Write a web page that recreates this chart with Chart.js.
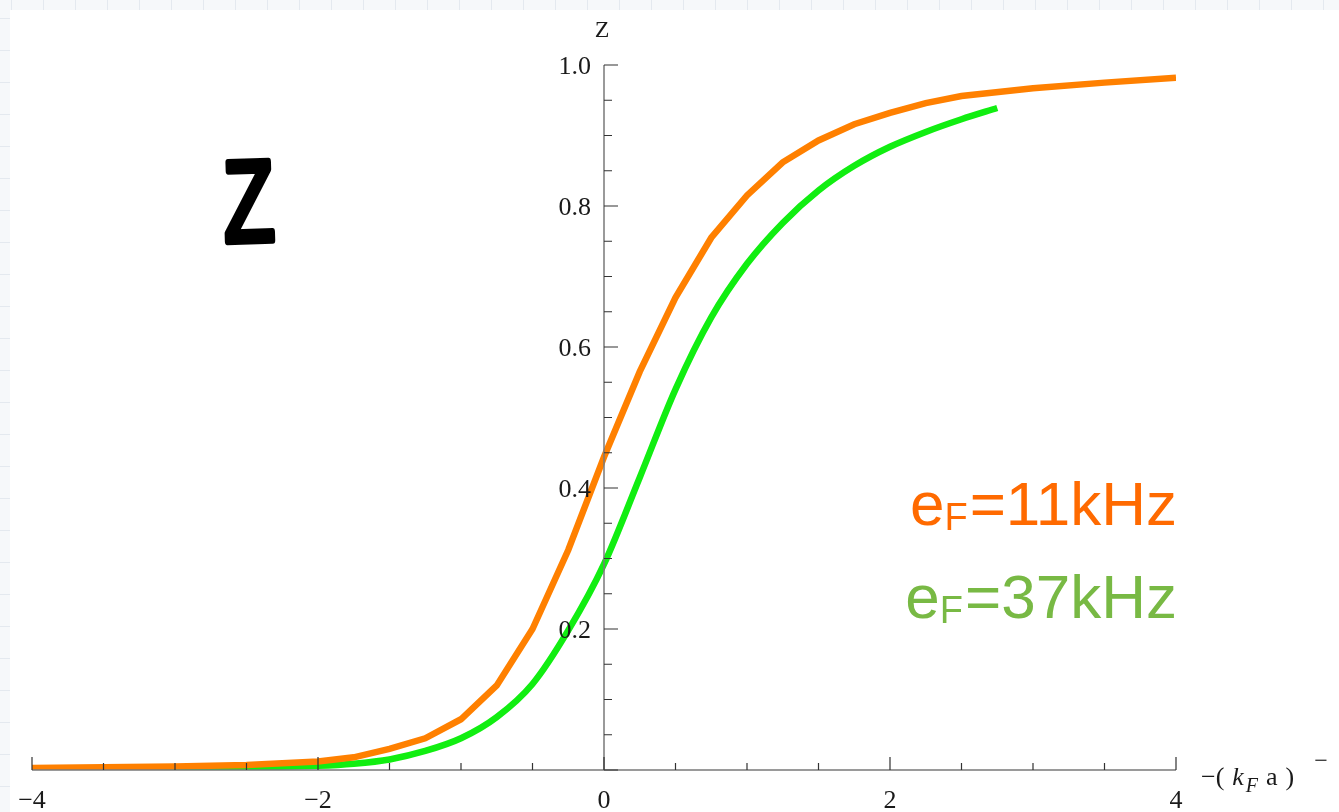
<!DOCTYPE html>
<html>
<head>
<meta charset="utf-8">
<title>Z</title>
<script src="https://cdn.jsdelivr.net/npm/chart.js@4.4.0/dist/chart.umd.min.js"></script>
<style>
  html, body { margin: 0; padding: 0; }
  body {
    width: 1339px; height: 812px; overflow: hidden; position: relative;
    background-color: #f6f8fa;
    background-image:
      linear-gradient(to right, #e4e9ef 1px, transparent 1px),
      linear-gradient(to bottom, #e4e9ef 1px, transparent 1px);
    background-size: 32px 32px;
    background-position: 11px 18px;
  }
  #sheet { position: absolute; left: 10px; top: 10px; right: 0; bottom: 0; background: #fff; }
  #chart { position: absolute; left: 0; top: 0; }
</style>
</head>
<body>
<div id="sheet"></div>
<canvas id="chart" width="1339" height="812"></canvas>
<script>
// Z against -(kF a)^-1 for two Fermi energies
const xOrange = [-4, -3.5, -3, -2.5, -2, -1.75, -1.5, -1.25, -1, -0.75, -0.5, -0.25, 0,
                 0.25, 0.5, 0.75, 1, 1.25, 1.5, 1.75, 2, 2.25, 2.5, 3, 3.5, 4];
const zOrange = [0.003, 0.004, 0.005, 0.007, 0.012, 0.018, 0.03, 0.045, 0.072, 0.12, 0.2, 0.312, 0.444,
                 0.565, 0.67, 0.755, 0.815, 0.862, 0.893, 0.916, 0.932, 0.946, 0.956, 0.967, 0.975, 0.982];

const xGreen = [-4, -3.5, -3, -2.5, -2, -1.75, -1.5, -1.25, -1, -0.75, -0.5, -0.25, 0,
                0.25, 0.5, 0.75, 1, 1.25, 1.5, 1.75, 2, 2.25, 2.5, 2.75];
const zGreen = [0.002, 0.002, 0.003, 0.004, 0.006, 0.009, 0.015, 0.027, 0.045, 0.075, 0.122, 0.198, 0.292,
                0.415, 0.54, 0.642, 0.718, 0.776, 0.822, 0.857, 0.884, 0.905, 0.923, 0.939];

const xMajor = [-4, -2, 0, 2, 4];
const xMajorLabels = ['\u22124', '\u22122', '0', '2', '4'];
const xMinor = [-3.5, -3, -2.5, -1.5, -1, -0.5, 0.5, 1, 1.5, 2.5, 3, 3.5];
const yMajor = [0, 0.2, 0.4, 0.6, 0.8, 1.0];
const yMajorLabels = ['', '0.2', '0.4', '0.6', '0.8', '1.0'];
const yMinor = [0.05, 0.1, 0.15, 0.25, 0.3, 0.35, 0.45, 0.5, 0.55, 0.65, 0.7, 0.75, 0.85, 0.9, 0.95];

const seriesLabels = ['=11kHz', '=37kHz'];
const ORANGE = '#ff8000', GREEN = '#11ee11';
const ORANGE_TEXT = '#ff6a00', GREEN_TEXT = '#78b944';

const pts = (xs, ys) => xs.map((x, i) => ({ x, y: ys[i] }));

// axes crossing at the origin, Mathematica style
const crossAxes = {
  id: 'crossAxes',
  afterDatasetsDraw(chart) {
    const { ctx, scales: { x, y } } = chart;
    const x0 = x.getPixelForValue(0), y0 = y.getPixelForValue(0);
    ctx.save();
    ctx.strokeStyle = '#7a7a7a';
    ctx.lineWidth = 1.5;
    ctx.beginPath();
    ctx.moveTo(x.getPixelForValue(-4), y0);
    ctx.lineTo(x.getPixelForValue(4), y0);
    ctx.moveTo(x0, y0);
    ctx.lineTo(x0, y.getPixelForValue(1));
    ctx.stroke();

    ctx.strokeStyle = '#333';
    ctx.lineWidth = 1.2;
    ctx.beginPath();
    xMajor.forEach(v => { const p = x.getPixelForValue(v); ctx.moveTo(p, y0); ctx.lineTo(p, y0 - 13); });
    xMinor.forEach(v => { const p = x.getPixelForValue(v); ctx.moveTo(p, y0); ctx.lineTo(p, y0 - 7); });
    yMajor.forEach(v => { const p = y.getPixelForValue(v); ctx.moveTo(x0, p); ctx.lineTo(x0 + 14, p); });
    yMinor.forEach(v => { const p = y.getPixelForValue(v); ctx.moveTo(x0, p); ctx.lineTo(x0 + 8, p); });
    ctx.stroke();

    ctx.fillStyle = '#1a1a1a';
    ctx.font = '26px "Liberation Serif", serif';
    ctx.textAlign = 'center';
    ctx.textBaseline = 'middle';
    xMajor.forEach((v, i) => ctx.fillText(xMajorLabels[i], x.getPixelForValue(v), y0 + 31));
    ctx.textAlign = 'right';
    yMajor.forEach((v, i) => {
      if (yMajorLabels[i]) ctx.fillText(yMajorLabels[i], x0 - 13, y.getPixelForValue(v) + 2);
    });

    // axis titles
    ctx.font = '24px "Liberation Serif", serif';
    ctx.textAlign = 'center';
    ctx.fillText('Z', x0 - 2, 31);

    ctx.textAlign = 'left';
    ctx.textBaseline = 'alphabetic';
    let cx = 1201;
    const base = 785;
    const put = (s, font, dy) => { ctx.font = font; ctx.fillText(s, cx, base + dy); cx += ctx.measureText(s).width; };
    put('\u2212(', '26px "Liberation Serif", serif', 0);
    cx += 8;
    put('k', 'italic 26px "Liberation Serif", serif', 0);
    cx += 2;
    put('F', 'italic 20px "Liberation Serif", serif', 7);
    cx += 8;
    put('a', '26px "Liberation Serif", serif', 0);
    cx += 8;
    put(')', '26px "Liberation Serif", serif', 0);
    cx += 20;
    put('\u2212', '24px "Liberation Serif", serif', -17);
    ctx.restore();
  },
  afterDraw(chart) {
    const { ctx } = chart;
    ctx.save();
    // curve labels, right aligned near the end of the orange curve
    const drawLabel = (tail, color, baseline) => {
      ctx.fillStyle = color;
      ctx.textBaseline = 'alphabetic';
      ctx.textAlign = 'left';
      ctx.font = '62px "Liberation Sans", Arial, sans-serif';
      const wTail = ctx.measureText(tail).width;
      const wE = ctx.measureText('e').width;
      ctx.font = '38px "Liberation Sans", Arial, sans-serif';
      const wF = ctx.measureText('F').width;
      let cx = 1177 - wTail - wF - wE - 2;
      ctx.font = '62px "Liberation Sans", Arial, sans-serif';
      ctx.fillText('e', cx, baseline); cx += wE;
      ctx.font = '38px "Liberation Sans", Arial, sans-serif';
      ctx.fillText('F', cx, baseline + 5); cx += wF + 2;
      ctx.font = '62px "Liberation Sans", Arial, sans-serif';
      ctx.fillText(tail, cx, baseline);
    };
    drawLabel(seriesLabels[0], ORANGE_TEXT, 525);
    drawLabel(seriesLabels[1], GREEN_TEXT, 618);

    // big marker-pen style Z
    ctx.translate(250, 241);
    ctx.rotate(-0.03);
    ctx.scale(0.72, 1);
    ctx.font = '115px "Liberation Sans", sans-serif';
    ctx.textAlign = 'center';
    ctx.textBaseline = 'alphabetic';
    ctx.lineJoin = 'round';
    ctx.lineCap = 'round';
    ctx.lineWidth = 7;
    ctx.strokeStyle = '#000';
    ctx.fillStyle = '#000';
    ctx.strokeText('Z', 0, 0);
    ctx.fillText('Z', 0, 0);
    ctx.restore();
  }
};

new Chart(document.getElementById('chart'), {
  type: 'scatter',
  data: {
    datasets: [
      {
        label: 'eF=11kHz',
        data: pts(xOrange, zOrange),
        showLine: true,
        borderColor: ORANGE,
        borderWidth: 6.5,
        pointRadius: 0,
        tension: 0
      },
      {
        label: 'eF=37kHz',
        data: pts(xGreen, zGreen),
        showLine: true,
        borderColor: GREEN,
        borderWidth: 6.5,
        pointRadius: 0,
        cubicInterpolationMode: 'monotone'
      }
    ]
  },
  options: {
    responsive: false,
    animation: false,
    devicePixelRatio: 1,
    layout: { padding: { left: 32, right: 163, top: 65, bottom: 42 } },
    plugins: { legend: { display: false }, tooltip: { enabled: false } },
    scales: {
      x: { type: 'linear', min: -4, max: 4, display: false },
      y: { type: 'linear', min: 0, max: 1, display: false }
    }
  },
  plugins: [crossAxes]
});
</script>
</body>
</html>
